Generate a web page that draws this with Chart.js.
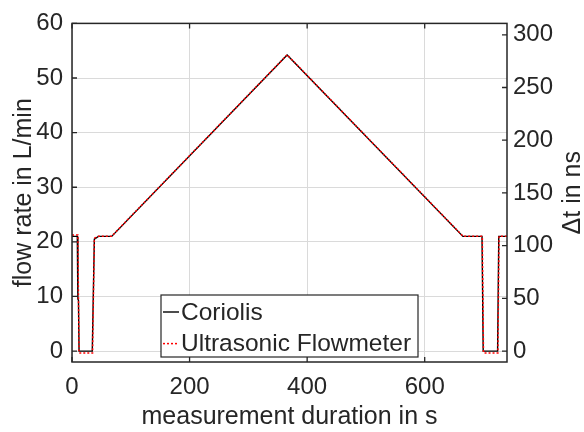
<!DOCTYPE html>
<html>
<head>
<meta charset="utf-8">
<script src="https://cdn.jsdelivr.net/npm/chart.js@4.4.1/dist/chart.umd.min.js"></script>
<style>
  html, body { margin: 0; padding: 0; background: #fff; }
</style>
</head>
<body>
<canvas id="flow-chart" width="584" height="432"></canvas>
<script>
// Coriolis reference meter: time in s, flow rate in L/min
const coriolisTime = [0, 9, 10, 11, 12, 34.5, 38, 45, 67.5, 366, 665, 697.5, 699.5, 724, 726, 740];
const coriolisFlow = [21, 21, 9.5, 9.3, 0, 0, 20.5, 21, 21, 54.2, 21, 21, 0, 0, 21, 21];

// Ultrasonic flowmeter: time in s, transit time difference in ns
const ultrasonicTime = [0, 10, 11, 12, 35, 38, 45, 67.5, 366, 665, 698, 700, 724.5, 726.5, 740];
const ultrasonicDt = [110, 110, 50, -1.8, -1.8, 107, 109, 109, 281, 109, 109, -1.8, -1.8, 109, 109];

// tick labels
const xTickValues = [0, 200, 400, 600];
const flowTickValues = [0, 10, 20, 30, 40, 50, 60];
const dtTickValues = [0, 50, 100, 150, 200, 250, 300];

const textColor = '#262626';
const gridColor = '#dadada';
const fontFamily = '"Liberation Sans", Arial, Helvetica, sans-serif';

// turns the two arrays into {x, y} points for the linear x axis
function toPoints(xs, ys) {
    return xs.map((x, i) => ({ x: x, y: ys[i] }));
}

// MATLAB style box with the tick marks pointing inwards, plus the right label
const axesFrame = {
    id: 'axesFrame',
    afterDatasetsDraw(chart) {
        const { ctx, chartArea: a, scales } = chart;
        ctx.save();
        ctx.strokeStyle = textColor;
        ctx.lineWidth = 1.3;
        ctx.beginPath();
        xTickValues.forEach(v => {
            const px = scales.x.getPixelForValue(v);
            ctx.moveTo(px, a.bottom); ctx.lineTo(px, a.bottom - 5);
            ctx.moveTo(px, a.top); ctx.lineTo(px, a.top + 5);
        });
        flowTickValues.forEach(v => {
            const py = scales.yFlow.getPixelForValue(v);
            ctx.moveTo(a.left, py); ctx.lineTo(a.left + 5, py);
        });
        dtTickValues.forEach(v => {
            const py = scales.yDt.getPixelForValue(v);
            ctx.moveTo(a.right, py); ctx.lineTo(a.right - 5, py);
        });
        ctx.stroke();
        ctx.lineWidth = 1.5;
        ctx.strokeRect(a.left, a.top, a.right - a.left, a.bottom - a.top);

        // right axis title reads bottom to top like the left one
        ctx.translate(573, (a.top + a.bottom) / 2);
        ctx.rotate(-Math.PI / 2);
        ctx.fillStyle = textColor;
        ctx.font = '25px ' + fontFamily;
        ctx.textAlign = 'center';
        ctx.textBaseline = 'middle';
        ctx.fillText('\u0394t in ns', 0, 0);
        ctx.restore();
    }
};

// legend box sitting inside the plot, near the bottom
const boxLegend = {
    id: 'boxLegend',
    afterDraw(chart) {
        const { ctx, chartArea: a } = chart;
        const left = a.left + 89, top = 295, width = 257, height = 62;
        ctx.save();
        ctx.fillStyle = '#fff';
        ctx.fillRect(left, top, width, height);
        ctx.strokeStyle = textColor;
        ctx.lineWidth = 1.2;
        ctx.strokeRect(left, top, width, height);
        ctx.font = '24.5px ' + fontFamily;
        ctx.textBaseline = 'middle';
        ctx.fillStyle = textColor;
        const rows = [
            chart.data.datasets.find(d => d.yAxisID === 'yFlow'),
            chart.data.datasets.find(d => d.yAxisID === 'yDt')
        ];
        rows.forEach((ds, i) => {
            const y = top + 17 + i * 31.6;
            ctx.strokeStyle = ds.borderColor;
            ctx.lineWidth = ds.borderWidth;
            ctx.setLineDash(ds.borderDash || []);
            ctx.beginPath();
            ctx.moveTo(left + 2, y);
            ctx.lineTo(left + 18, y);
            ctx.stroke();
            ctx.setLineDash([]);
            ctx.fillText(ds.label, left + 20, y + 1);
        });
        ctx.restore();
    }
};

const ctx = document.getElementById('flow-chart').getContext('2d');
const myChart = new Chart(ctx, {
    type: 'line',
    data: {
        datasets: [{
            label: 'Coriolis',
            data: toPoints(coriolisTime, coriolisFlow),
            yAxisID: 'yFlow',
            borderColor: '#000000',
            borderWidth: 1.4,
            pointRadius: 0,
            tension: 0,
            order: 1
        }, {
            label: 'Ultrasonic Flowmeter',
            data: toPoints(ultrasonicTime, ultrasonicDt),
            yAxisID: 'yDt',
            borderColor: '#ff0000',
            borderWidth: 1.5,
            borderDash: [2, 2],
            pointRadius: 0,
            tension: 0,
            order: 0
        }]
    },
    options: {
        responsive: false,
        animation: false,
        devicePixelRatio: 1,
        layout: { padding: { top: 18, left: 0, right: 0, bottom: 0 } },
        plugins: {
            legend: { display: false },
            tooltip: { enabled: false }
        },
        scales: {
            x: {
                type: 'linear',
                position: 'bottom',
                min: 0,
                max: 740,
                afterBuildTicks: s => { s.ticks = xTickValues.map(v => ({ value: v })); },
                afterFit: s => { s.height = 70; },
                ticks: { color: textColor, font: { family: fontFamily, size: 24 }, padding: 11, maxRotation: 0, autoSkip: false },
                grid: { color: gridColor, lineWidth: 1, drawTicks: false },
                border: { display: false },
                title: {
                    display: true,
                    text: 'measurement duration in s',
                    color: textColor,
                    font: { family: fontFamily, size: 25 },
                    padding: { top: 0, bottom: 0 }
                }
            },
            yFlow: {
                type: 'linear',
                position: 'left',
                min: -2,
                max: 60,
                afterBuildTicks: s => { s.ticks = flowTickValues.map(v => ({ value: v })); },
                afterFit: s => { s.width = 72; },
                ticks: { color: textColor, font: { family: fontFamily, size: 24 }, padding: 9 },
                grid: { color: gridColor, lineWidth: 1, drawTicks: false },
                border: { display: false },
                title: {
                    display: true,
                    text: 'flow rate in L/min',
                    color: textColor,
                    font: { family: fontFamily, size: 25 },
                    padding: { top: 9, bottom: 0 }
                }
            },
            yDt: {
                type: 'linear',
                position: 'right',
                min: -10.36,
                max: 310.8,
                afterBuildTicks: s => { s.ticks = dtTickValues.map(v => ({ value: v })); },
                afterFit: s => { s.width = 77; },
                ticks: { color: textColor, font: { family: fontFamily, size: 24 }, padding: 6 },
                grid: { display: false, drawTicks: false },
                border: { display: false }
            }
        }
    },
    plugins: [axesFrame, boxLegend]
});
</script>
</body>
</html>
